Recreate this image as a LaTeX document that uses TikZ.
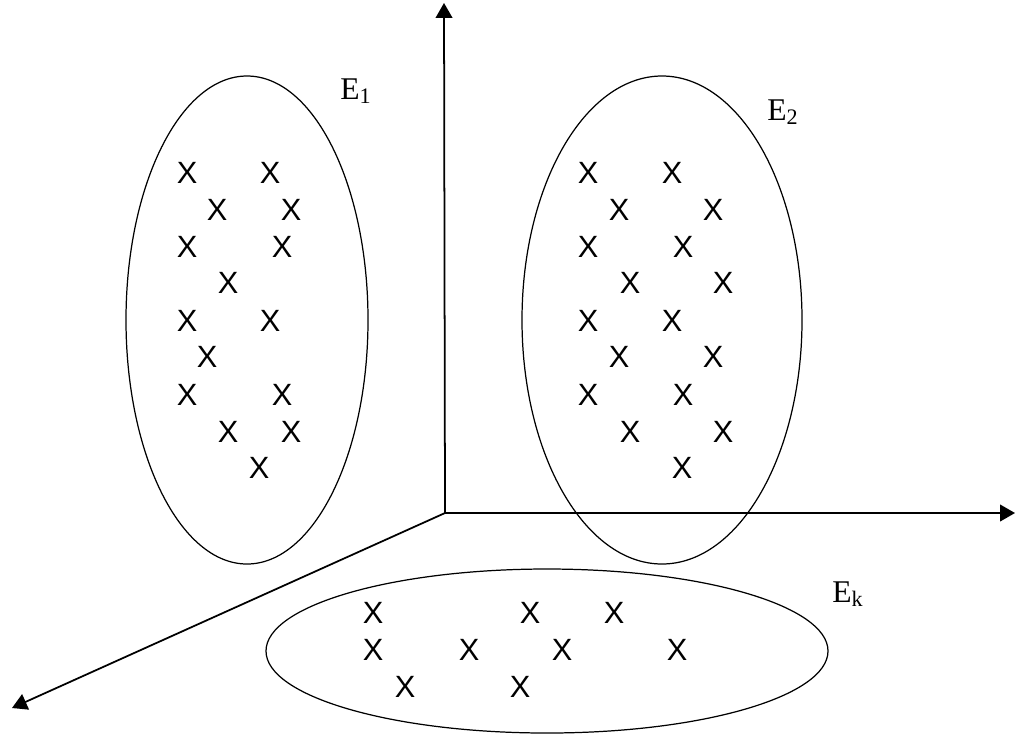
\documentclass[tikz,border=0pt]{standalone}
\usepackage{fontspec}
\setmainfont{Liberation Serif}
\newfontfamily\markfont{Liberation Sans}
\usetikzlibrary{arrows.meta}
\tikzset{
    point/.style={font=\markfont\fontsize{17.5}{20}\selectfont, inner sep=0pt},
    axis/.style={line width=1pt, -{Triangle[length=8.5pt,width=9.5pt]}},
    cluster/.style={line width=0.7pt},
    setlabel/.style={font=\fontsize{18}{20}\selectfont, inner sep=0pt, anchor=base west}
}

\begin{document}
\begin{tikzpicture}[x=0.02cm, y=-0.02cm]
    \useasboundingbox (0,0) rectangle (1016,735);

    % axes
    \coordinate (o) at (445,513);
    \coordinate (ytip) at (444,3);
    \coordinate (xtip) at (1015,513);
    \coordinate (ztip) at (12,708);
    \draw[axis] (o) -- (ytip);
    \draw[axis] (o) -- (xtip);
    \draw[axis] (o) -- (ztip);

    % cluster E_1
    \draw[cluster] (247,320) ellipse [x radius=121, y radius=244];
    \foreach \px/\py [count=\i] in {187/173, 270/173, 217/210, 291/210,
        187/247, 282/247, 228/283, 187/321, 270/321, 207/357,
        187/395, 282/395, 228/432, 291/432, 259/468}
        \node[point] (a\i) at (\px,\py) {X};
    \node[setlabel] (e1) at (340,99) {E\textsubscript{1}};

    % cluster E_2
    \draw[cluster] (662,320) ellipse [x radius=140, y radius=244];
    \foreach \px/\py [count=\i] in {588/173, 672/173, 619/210, 713/210,
        588/247, 683/247, 630/283, 723/283, 588/321, 672/321,
        619/357, 713/357, 588/395, 683/395, 630/432, 723/432, 682/468}
        \node[point] (b\i) at (\px,\py) {X};
    \node[setlabel] (e2) at (767,120) {E\textsubscript{2}};

    % cluster E_k
    \draw[cluster] (547,651) ellipse [x radius=281, y radius=82];
    \foreach \px/\py [count=\i] in {373/613, 530/613, 614/613,
        373/650, 469/650, 562/650, 677/650, 405/687, 520/687}
        \node[point] (c\i) at (\px,\py) {X};
    \node[setlabel] (ek) at (832,602) {E\textsubscript{k}};
\end{tikzpicture}
\end{document}
